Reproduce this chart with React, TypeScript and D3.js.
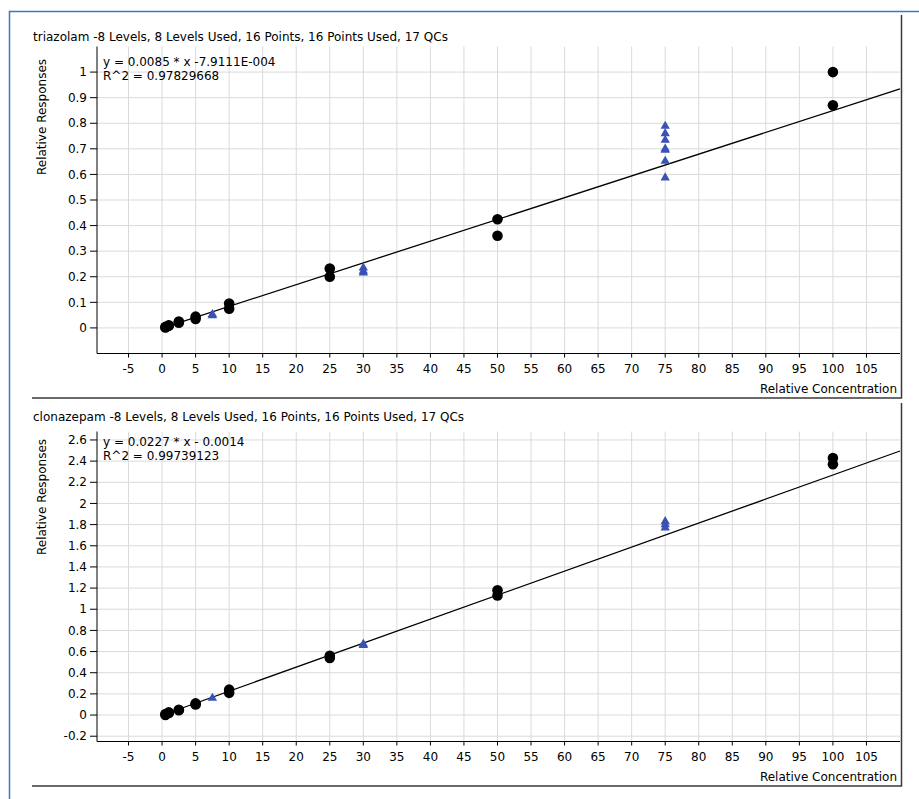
import * as d3 from 'd3';
import React from 'react';

// calibration levels (2 replicates each) and QC levels
const calX = [0.5, 0.5, 1, 1, 2.5, 2.5, 5, 5, 10, 10, 25, 25, 50, 50, 100, 100];
const triazolamCal = [0.002, 0.004, 0.008, 0.01, 0.02, 0.025, 0.035, 0.044, 0.075, 0.095, 0.2, 0.232, 0.36, 0.425, 0.87, 1.0];
const clonazepamCal = [0.0, 0.01, 0.02, 0.025, 0.045, 0.05, 0.1, 0.11, 0.21, 0.24, 0.54, 0.56, 1.13, 1.18, 2.37, 2.43];

const triazolamQcX = [7.5, 7.5, 30, 30, 30, 75, 75, 75, 75, 75, 75, 75];
const triazolamQc = [0.053, 0.048, 0.235, 0.222, 0.215, 0.789, 0.76, 0.734, 0.7, 0.695, 0.652, 0.587];
const clonazepamQcX = [7.5, 30, 30, 75, 75, 75];
const clonazepamQc = [0.16, 0.67, 0.66, 1.83, 1.8, 1.77];

const xTicks = d3.range(-5, 106, 5);
const triazolamTicks = d3.range(0, 11).map((d) => d / 10);
const clonazepamTicks = d3.range(-1, 14).map((d) => d / 5);

const font = 'DejaVu Sans, sans-serif';

const Panel = ({ top, yDomain, yRange, yTicks, title, eq, r2, slope, intercept, cal, qcX, qc }) => {
  const x = d3.scaleLinear([-9.7, 110], [97, 900]);
  const y = d3.scaleLinear(yDomain, yRange);
  const [yBottom, yTop] = yRange;
  const line = d3.line((d) => x(d), (d) => y(slope * d + intercept));
  const fmt = (v) => d3.format('~g')(+v.toFixed(2)).replace('−', '-');
  const tri = d3.symbol(d3.symbolTriangle, 38);

  return (
    <g fontFamily={font} fontSize={12} fill="#000">
      <text x={33} y={top + 30}>{title}</text>
      <text transform={`translate(46,${top + 106}) rotate(-90)`} textAnchor="middle">Relative Responses</text>
      {/* grid */}
      <g stroke="#dadada" strokeWidth={1}>
        {xTicks.map((t) => (
          <line key={t} x1={x(t)} x2={x(t)} y1={yBottom} y2={yTop} />
        ))}
        {yTicks.map((t) => (
          <line key={t} x1={97} x2={900} y1={y(t)} y2={y(t)} />
        ))}
      </g>
      {/* axes */}
      <g stroke="#000" strokeWidth={1}>
        <line x1={97} x2={97} y1={yTop} y2={yBottom} />
        <line x1={97} x2={900} y1={yBottom} y2={yBottom} />
        {yTicks.map((t) => (
          <line key={t} x1={90} x2={97} y1={y(t)} y2={y(t)} />
        ))}
        {xTicks.map((t) => (
          <line key={t} x1={x(t)} x2={x(t)} y1={yBottom} y2={yBottom + 4} />
        ))}
      </g>
      {yTicks.map((t) => (
        <text key={t} x={87} y={y(t)} dy="0.35em" textAnchor="end">{fmt(t)}</text>
      ))}
      {xTicks.map((t) => (
        <text key={t} x={x(t)} y={yBottom + 19} textAnchor="middle">{fmt(t)}</text>
      ))}
      <text x={897} y={yBottom + 39} textAnchor="end">Relative Concentration</text>
      <text x={103} y={top + 55}>{eq}</text>
      <text x={103} y={top + 69}>{r2}</text>
      <path d={line([0.5, 110])} fill="none" stroke="#000" strokeWidth={1.3} />
      {qcX.map((d, i) => (
        <path key={i} d={tri()} transform={`translate(${x(d)},${y(qc[i])})`} fill="#3a52b5" />
      ))}
      {calX.map((d, i) => (
        <circle key={i} cx={x(d)} cy={y(cal[i])} r={5.3} fill="#000" />
      ))}
    </g>
  );
};

export default function App() {
  return (
    <svg width={919} height={799} style={{ position: 'absolute', left: 0, top: 0, background: '#fff' }}>
      <rect width={919} height={799} fill="#fff" />
      <path d="M9.5,799 V11.5 H919" fill="none" stroke="#3f74c8" strokeWidth={1.5} />
      <path d="M901.5,15 V398 H32" fill="none" stroke="#3a3a3a" strokeWidth={1.5} />
      <path d="M901.5,403 V786 H32" fill="none" stroke="#3a3a3a" strokeWidth={1.5} />
      <Panel
        top={11}
        yDomain={[-0.1, 1.1]}
        yRange={[353.5, 46.5]}
        yTicks={triazolamTicks}
        title="triazolam -8 Levels, 8 Levels Used, 16 Points, 16 Points Used, 17 QCs"
        eq="y = 0.0085 * x -7.9111E-004"
        r2="R^2 = 0.97829668"
        slope={0.0085}
        intercept={-0.00079111}
        cal={triazolamCal}
        qcX={triazolamQcX}
        qc={triazolamQc}
      />
      <Panel
        top={391}
        yDomain={[-0.25, 2.68]}
        yRange={[741.5, 431.5]}
        yTicks={clonazepamTicks}
        title="clonazepam -8 Levels, 8 Levels Used, 16 Points, 16 Points Used, 17 QCs"
        eq="y = 0.0227 * x - 0.0014"
        r2="R^2 = 0.99739123"
        slope={0.0227}
        intercept={-0.0014}
        cal={clonazepamCal}
        qcX={clonazepamQcX}
        qc={clonazepamQc}
      />
    </svg>
  );
}
